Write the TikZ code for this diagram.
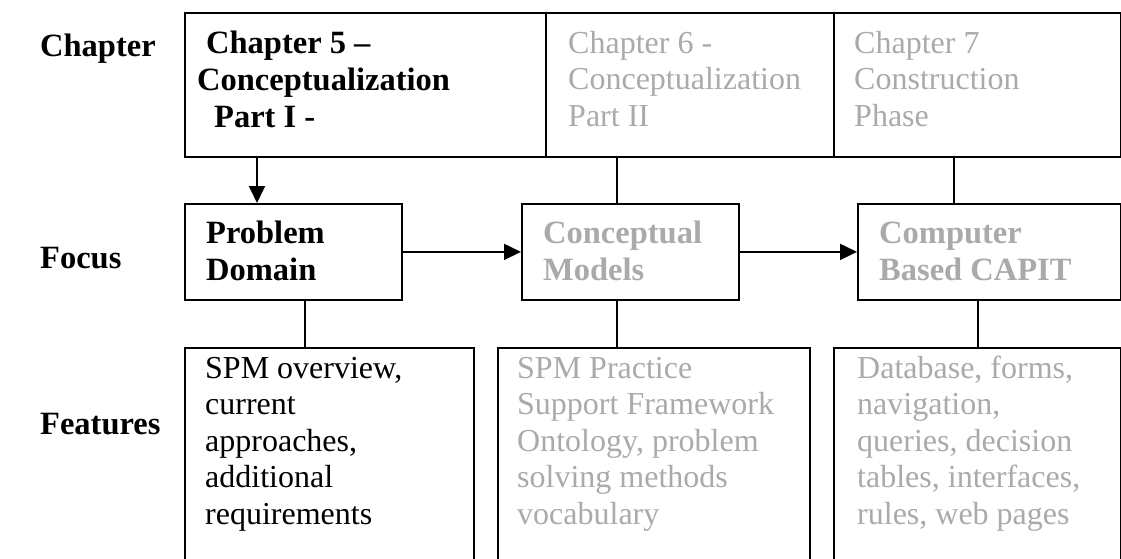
\documentclass[tikz,border=0pt]{standalone}
\usepackage{fontspec}
\setmainfont{Liberation Serif}
\usetikzlibrary{arrows.meta}

\definecolor{faded}{RGB}{170,170,170}
\tikzset{
	box/.style={draw, line width=1.8pt, anchor=north west, inner sep=0pt},
	txt/.style={anchor=base west, align=left, inner sep=0pt, font=\fontsize{32}{36.5}\selectfont},
	bold/.style={txt, font=\fontsize{32.5}{37}\selectfont\bfseries},
	link/.style={line width=1.8pt},
	arrow/.style={link, -{Triangle[length=17pt,width=16pt]}}
}

\begin{document}
\begin{tikzpicture}[x=1pt, y=-1pt]
	\useasboundingbox (0,0) rectangle (1121,558);
	\clip (0,0) rectangle (1121,558);
	%\draw[help lines] (0,0) grid[step=50] (1121,558);
	\node[bold] (lchap) at (40,56) {Chapter};
	\node[bold] (lfocus) at (40,268) {Focus};
	\node[bold] (lfeat) at (40,434) {Features};
	% chapters
	\node[box, minimum width=361pt, minimum height=144pt] (chfive) at (184,12) {};
	\node[box, minimum width=288pt, minimum height=144pt] (chsix) at (545,12) {};
	\node[box, minimum width=287pt, minimum height=144pt] (chseven) at (833,12) {};
	\node[bold] (tchfive) at (197,127) {\hspace*{9pt}Chapter 5 –\\Conceptualization\\\hspace*{17pt}Part I -};
	\node[txt, text=faded] (tchsix) at (568,126) {Chapter 6 -\\Conceptualization\\Part II};
	\node[txt, text=faded] (tchseven) at (854,126) {Chapter 7\\Construction\\Phase};
	% focus
	\node[box, minimum width=217pt, minimum height=96pt] (pd) at (184,203) {};
	\node[box, minimum width=217pt, minimum height=96pt] (cm) at (521,203) {};
	\node[box, minimum width=263pt, minimum height=96pt] (cb) at (857,203) {};
	\node[bold] (tpd) at (206,280) {Problem\\Domain};
	\node[bold, text=faded] (tcm) at (543,280) {Conceptual\\Models};
	\node[bold, text=faded] (tcb) at (879,280) {Computer\\Based CAPIT};
	% features
	\node[box, minimum width=289pt, minimum height=250pt] (fone) at (184,347) {};
	\node[box, minimum width=312pt, minimum height=250pt] (ftwo) at (497,347) {};
	\node[box, minimum width=287pt, minimum height=250pt] (fthree) at (833,347) {};
	\node[txt] (tfone) at (205,524) {SPM overview,\\current\\approaches,\\additional\\requirements};
	\node[txt, text=faded] (tftwo) at (517,524) {SPM Practice\\Support Framework\\Ontology, problem\\solving methods\\vocabulary};
	\node[txt, text=faded] (tfthree) at (857,524) {Database, forms,\\navigation,\\queries, decision\\tables, interfaces,\\rules, web pages};
	% links
	\coordinate (pdin) at (257,203);
	\coordinate (cmin) at (617,203);
	\coordinate (cbin) at (954,203);
	\coordinate (foneup) at (305,347);
	\coordinate (ftwoup) at (617,347);
	\coordinate (fthreeup) at (978,347);
	\draw[arrow] (chfive.south -| pdin) -- (pdin);
	\draw[link] (chsix.south -| cmin) -- (cmin);
	\draw[link] (chseven.south -| cbin) -- (cbin);
	\draw[arrow] (pd.east) -- (cm.west);
	\draw[arrow] (cm.east) -- (cb.west);
	\draw[link] (pd.south -| foneup) -- (foneup);
	\draw[link] (cm.south -| ftwoup) -- (ftwoup);
	\draw[link] (cb.south -| fthreeup) -- (fthreeup);
\end{tikzpicture}
\end{document}
